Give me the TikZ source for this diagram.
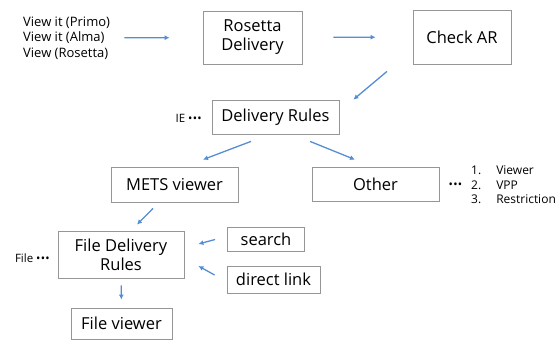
\documentclass[tikz,border=0pt]{standalone}
\usepackage{fontspec}
\setmainfont{Open Sans}
\usetikzlibrary{arrows.meta}

\definecolor{flowblue}{RGB}{84,141,212}
\definecolor{boxgray}{RGB}{150,150,150}
\tikzset{
  box/.style={draw=boxgray, line width=0.8pt, align=center, inner sep=0pt,
    font=\fontsize{16.5}{19}\selectfont},
  flow/.style={draw=flowblue, line width=1.3pt, -{Latex[length=5pt,width=5pt]}},
  note/.style={inner sep=0pt, align=left, font=\fontsize{13}{15.5}\selectfont}
}
\newcommand{\tridot}{\textbullet\kern0.3pt\textbullet\kern0.3pt\textbullet}

\begin{document}
\begin{tikzpicture}[x=1pt,y=-1pt]
    \useasboundingbox (0,0) rectangle (557,340);
    % boxes
    \node[box, minimum width=99pt, minimum height=53pt] (rosetta) at (252.5,37.5) {Rosetta\\Delivery};
    \node[box, minimum width=98pt, minimum height=54pt] (checkar) at (462,37) {Check AR};
    \node[box, minimum width=127pt, minimum height=34pt] (rules) at (275.5,117) {Delivery Rules};
    \node[box, minimum width=127pt, minimum height=35pt] (mets) at (174.5,184.5) {METS viewer};
    \node[box, minimum width=127pt, minimum height=34pt] (other) at (375.5,184) {Other};
    \node[box, minimum width=126pt, minimum height=47pt] (filerules) at (121,254.5) {File Delivery\\Rules};
    \node[box, minimum width=101pt, minimum height=31pt] (fileviewer) at (121.5,323.5) {File viewer};
    \node[box, minimum width=77pt, minimum height=24pt] (search) at (266,239.5) {search};
    \node[box, minimum width=93pt, minimum height=27pt] (directlink) at (273.5,279.5) {direct link};
    % side notes
    \node[note, anchor=west] (views) at (23,38) {View it (Primo)\\View it (Alma)\\View (Rosetta)};
    \node[note, anchor=east, font=\fontsize{11.5}{13}\selectfont] (ie) at (202,118) {IE \tridot};
    \node[note, anchor=east, font=\fontsize{11.5}{13}\selectfont] (file) at (50,258) {File \tridot};
    \node[note, font=\fontsize{11.5}{13}\selectfont] (otherdots) at (455.5,186) {\tridot};
    \node[note, anchor=west, font=\fontsize{12}{14.5}\selectfont] (otherlist) at (471,186.5)
        {\begin{tabular}{@{}l@{\hspace{15pt}}l@{}}1. & Viewer\\ 2. & VPP\\ 3. & Restriction\end{tabular}};
    % arrows
    \draw[flow, shorten <=14pt, shorten >=33pt] (views) -- (rosetta);
    \draw[flow, shorten <=31pt, shorten >=37pt] (rosetta) -- (checkar);
    \draw[flow] ([shift={(-75,7)}]checkar.south) -- ([xshift=14pt]rules.north east);
    \draw[flow] ([shift={(-24.5,7)}]rules.south) -- ([shift={(28.5,-7)}]mets.north);
    \draw[flow] ([shift={(34.5,7)}]rules.south) -- ([shift={(-20.5,-7)}]other.north);
    \draw[flow] ([shift={(-21.5,6)}]mets.south) -- ([shift={(16,-6)}]filerules.north);
    \draw[flow] ([xshift=-12pt]search.west) -- ([shift={(14,-10.5)}]filerules.east);
    \draw[flow] ([shift={(-12,-4.5)}]directlink.west) -- ([shift={(14,11.5)}]filerules.east);
    \draw[flow, shorten <=7pt, shorten >=8pt] (filerules) -- (fileviewer);
\end{tikzpicture}
\end{document}
